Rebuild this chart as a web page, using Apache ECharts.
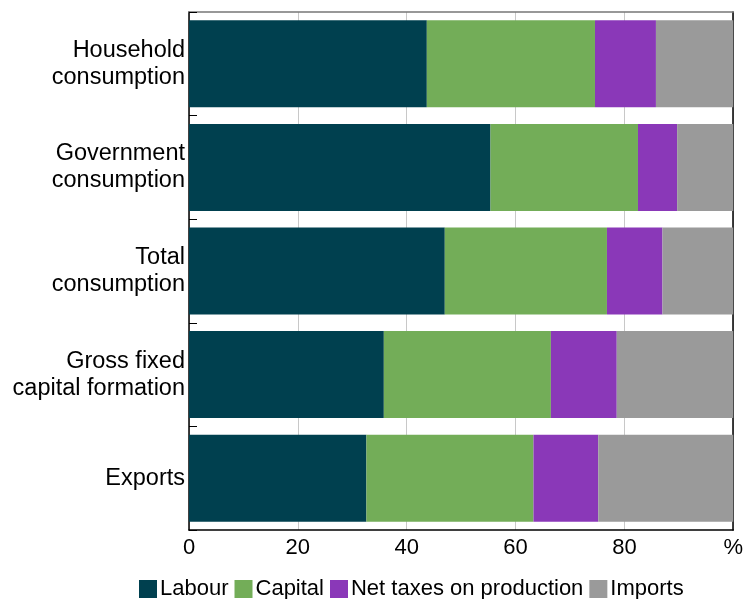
<!DOCTYPE html>
<html>
<head>
<meta charset="utf-8">
<script src="https://cdn.jsdelivr.net/npm/echarts@6/dist/echarts.min.js"></script>
<style>html,body{margin:0;padding:0;background:#fff}#c{width:746px;height:599px}</style>
</head>
<body>
<div id="c"></div>
<script>
const categories = ["Household\nconsumption", "Government\nconsumption", "Total\nconsumption", "Gross fixed\ncapital formation", "Exports"];
const labour = [43.7, 55.4, 47.0, 35.8, 32.6];
const capital = [30.9, 27.1, 29.8, 30.7, 30.7];
const netTaxes = [11.2, 7.2, 10.2, 12.1, 11.9];
const imports = [14.2, 10.3, 13.0, 21.4, 24.8];
const xTicks = [0, 20, 40, 60, 80, 100];

const seriesNames = ["Labour", "Capital", "Net taxes on production", "Imports"];
const seriesData = [labour, capital, netTaxes, imports];
const colors = ["#00404F", "#73AD58", "#8A38B8", "#9A9A9A"];

const font = "Liberation Sans, Arial, sans-serif";
const chart = echarts.init(document.getElementById('c'), null, {renderer: 'canvas'});
chart.setOption({
  animation: false,
  textStyle: {fontFamily: font},
  grid: {left: 189, right: 12, top: 12, bottom: 69, containLabel: false},
  legend: {
    bottom: -1, left: 134, padding: [0, 5, 0, 5],
    icon: 'rect', itemWidth: 18, itemHeight: 18, itemGap: 6,
    textStyle: {fontSize: 22, lineHeight: 22, color: '#000', fontFamily: font, padding: [0, 0, 0, -2]},
    data: seriesNames
  },
  xAxis: [{
    type: 'value', min: 0, max: 100, interval: 20,
    axisLine: {show: true, lineStyle: {color: '#000', width: 1.5}},
    axisTick: {show: false},
    splitLine: {show: true, lineStyle: {color: '#c8c8c8', width: 1}},
    axisLabel: {fontSize: 22, color: '#000', margin: 7, fontFamily: font,
      formatter: v => (v === xTicks[xTicks.length - 1] ? '%' : String(v))}
  }, {
    type: 'value', min: 0, max: 100, position: 'top',
    axisLine: {show: true, onZero: false, lineStyle: {color: '#777', width: 1.5}},
    axisTick: {show: false}, axisLabel: {show: false}, splitLine: {show: false}
  }],
  yAxis: [{
    type: 'category', inverse: true, data: categories,
    axisLine: {show: true, lineStyle: {color: '#000', width: 1.5}},
    axisTick: {show: true, inside: true, length: 8, lineStyle: {color: '#000'}},
    axisLabel: {fontSize: 23.5, lineHeight: 27, color: '#000', margin: 4, fontFamily: font, align: 'right'},
    splitLine: {show: false}
  }, {
    type: 'category', inverse: true, data: categories, position: 'right',
    axisLine: {show: true, onZero: false, lineStyle: {color: '#000', width: 1.5}},
    axisTick: {show: false}, axisLabel: {show: false}, splitLine: {show: false}
  }],
  series: seriesNames.map((n, i) => ({
    name: n, type: 'bar', stack: 'total', barCategoryGap: '16%',
    data: seriesData[i],
    itemStyle: {color: colors[i]},
    emphasis: {disabled: true}
  }))
});
</script>
</body>
</html>
